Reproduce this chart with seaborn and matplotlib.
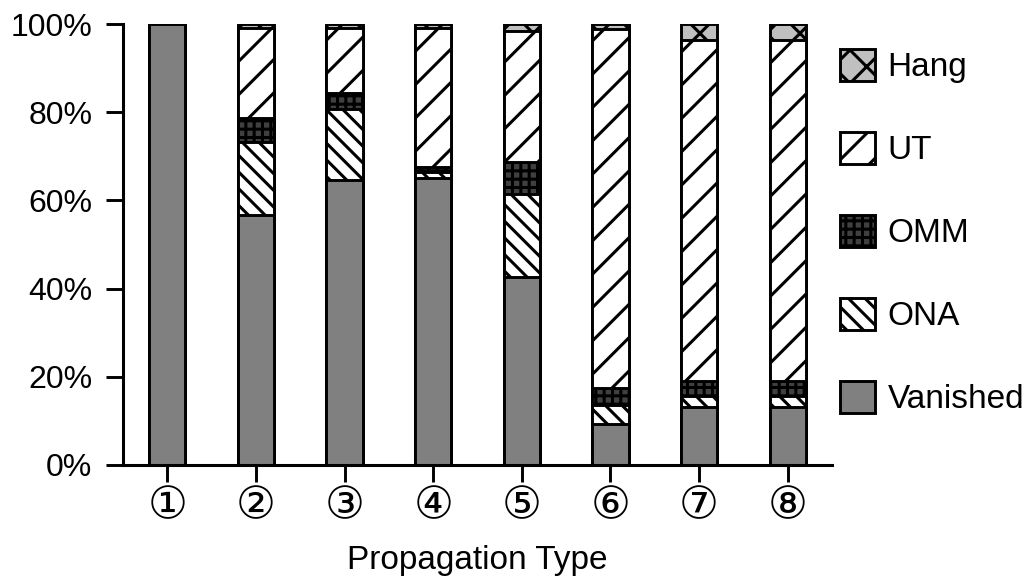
import matplotlib
matplotlib.use("Agg")
import matplotlib.pyplot as plt
import seaborn as sns
import numpy as np
import pandas as pd
from matplotlib.patches import Patch
from matplotlib.ticker import PercentFormatter

# ---- data (percent) ----
types = ["①", "②", "③", "④", "⑤", "⑥", "⑦", "⑧"]
vanished = [100.0, 56.7, 64.6, 65.0, 42.6, 9.2, 13.1, 13.1]
ona      = [0.0, 16.6, 16.1, 1.4, 18.8, 4.3, 2.6, 2.6]
omm      = [0.0, 5.4, 3.6, 1.2, 7.4, 3.9, 3.4, 3.4]
ut       = [0.0, 20.4, 14.9, 31.4, 29.5, 81.4, 77.3, 77.3]
hang     = [0.0, 0.9, 0.8, 1.0, 1.7, 1.2, 3.6, 3.6]
categories = ["Vanished", "ONA", "OMM", "UT", "Hang"]

sns.set_style("ticks")
plt.rcParams["font.family"] = ["Liberation Sans", "DejaVu Sans", "Noto Sans CJK SC"]
plt.rcParams["hatch.linewidth"] = 2.2
plt.rcParams["hatch.color"] = "black"
plt.rcParams["text.color"] = "black"

BS = chr(92)  # backslash
DPI = 100
FS = 23
FS_BIG = 24
fig = plt.figure(figsize=(1031 / DPI, 582 / DPI), dpi=DPI)
ax = fig.add_axes([123 / 1031, 1 - 465 / 582, (832 - 123) / 1031, (465 - 24) / 582])

styles = {
    "Vanished": dict(face="#808080", hatch=None),
    "ONA": dict(face="white", hatch=BS * 2),
    "OMM": dict(face="#404040", hatch="++"),
    "UT": dict(face="white", hatch="/"),
    "Hang": dict(face="#c0c0c0", hatch="x"),
}

series = {"Vanished": vanished, "ONA": ona, "OMM": omm, "UT": ut, "Hang": hang}
df = pd.DataFrame({"type": types, **series})
cum = df[categories].cumsum(axis=1)

# draw cumulative bars from the top layer down so lower layers cover upper ones
for cat in reversed(categories):
    st = styles[cat]
    sns.barplot(x=df["type"], y=cum[cat], order=types, color=st["face"], saturation=1,
                width=0.41, edgecolor="black", linewidth=2.1, hatch=st["hatch"],
                ax=ax, errorbar=None)

ax.set_xlim(-0.5, 7.5)
ax.set_ylim(0, 100)
ax.set_yticks([0, 20, 40, 60, 80, 100])
ax.yaxis.set_major_formatter(PercentFormatter(decimals=0))
sns.despine(ax=ax)
for s in ["left", "bottom"]:
    ax.spines[s].set_linewidth(2.2)
    ax.spines[s].set_color("black")
ax.tick_params(axis="both", length=12, width=2.1, color="black", labelsize=FS, labelcolor="black")
ax.tick_params(axis="y", pad=10)
ax.tick_params(axis="x", pad=2)
for lab in ax.get_xticklabels():
    lab.set_family(["DejaVu Sans"])
    lab.set_fontsize(32)
ax.set_xlabel("Propagation Type", fontsize=FS_BIG, labelpad=13, color="black")
ax.set_ylabel("")

handles = [Patch(facecolor=styles[c]["face"], edgecolor="black", hatch=styles[c]["hatch"],
                 linewidth=2.1, label=c) for c in reversed(categories)]
fig.legend(handles=handles, loc="center left", bbox_to_anchor=(840 / 1031, 1 - 232 / 582),
           frameon=False, fontsize=FS_BIG, handlelength=1.05, handleheight=1.1,
           labelspacing=1.46, handletextpad=0.38, borderpad=0, borderaxespad=0,
           labelcolor="black")

fig.savefig("out.png", dpi=DPI)
